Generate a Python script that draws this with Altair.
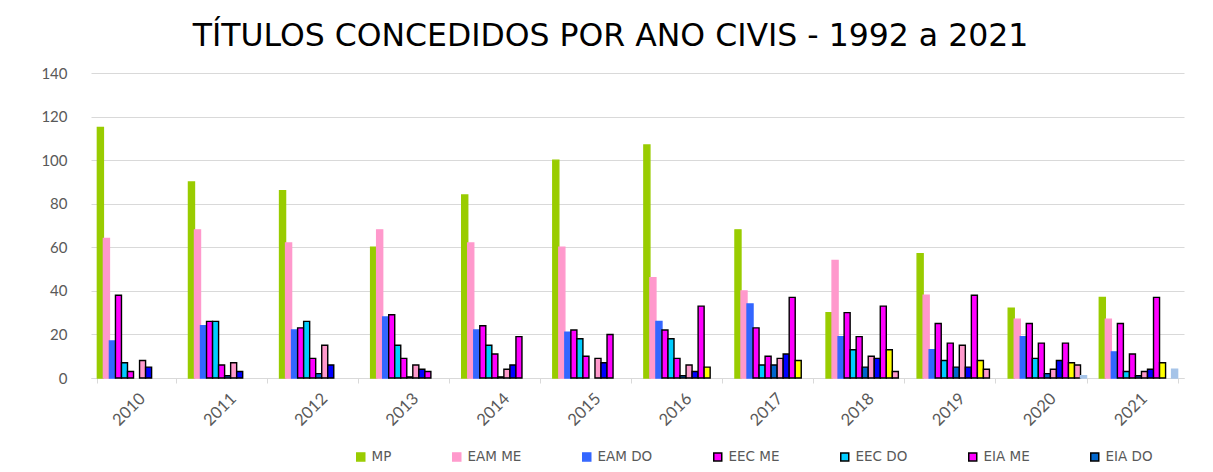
import altair as alt
import pandas as pd

years = ["2010", "2011", "2012", "2013", "2014", "2015", "2016", "2017", "2018", "2019", "2020", "2021"]

series_names = ["MP", "EAM ME", "EAM DO", "EEC ME", "EEC DO", "EIA ME", "EIA DO",
                "Série 8", "Série 9", "Série 10", "Série 11", "Série 12", "Série 13"]
legend_names = ["MP", "EAM ME", "EAM DO", "EEC ME", "EEC DO", "EIA ME", "EIA DO"]

mp      = [115, 90, 86, 60, 84, 100, 107, 68, 30, 57, 32, 37]
eam_me  = [64, 68, 62, 68, 62, 60, 46, 40, 54, 38, 27, 27]
eam_do  = [17, 24, 22, 28, 22, 21, 26, 34, 19, 13, 19, 12]
eec_me  = [38, 26, 23, 29, 24, 22, 22, 23, 30, 25, 25, 25]
eec_do  = [7, 26, 26, 15, 15, 18, 18, 6, 13, 8, 9, 3]
eia_me  = [3, 6, 9, 9, 11, 10, 9, 10, 19, 16, 16, 11]
eia_do  = [0, 1, 2, 0.5, 0.5, 0, 1, 6, 5, 5, 2, 1]
serie8  = [8, 7, 15, 6, 4, 9, 6, 9, 10, 15, 4, 3]
serie9  = [5, 3, 6, 4, 6, 7, 3, 11, 9, 5, 8, 4]
serie10 = [0, 0, 0, 3, 19, 20, 33, 37, 33, 38, 16, 37]
serie11 = [0, 0, 0, 0, 0, 0, 5, 8, 13, 8, 7, 7]
serie12 = [0, 0, 0, 0, 0, 0, 0, 0, 3, 4, 6, 0]
serie13 = [0, 0, 0, 0, 0, 0, 0, 0, 0, 0, 1, 4]

all_values = [mp, eam_me, eam_do, eec_me, eec_do, eia_me, eia_do,
              serie8, serie9, serie10, serie11, serie12, serie13]

fills = ["#99CC00", "#FF99CC", "#3366FF", "#FF00FF", "#00CCFF", "#FF00FF", "#0066CC",
         "#FF99CC", "#0000FF", "#FF00FF", "#FFFF00", "#FF99CC", "#A6C4E8"]
strokes = ["#99CC00", "#FF99CC", "#3366FF", "#000000", "#000000", "#000000", "#000000",
           "#000000", "#000000", "#000000", "#000000", "#000000", "#A6C4E8"]

rows = []
for name, vals in zip(series_names, all_values):
    for yr, v in zip(years, vals):
        rows.append({"year": yr, "series": name, "value": v})
df = pd.DataFrame(rows)

leg = alt.Legend(
    title=None, values=legend_names, orient="none", legendX=263, legendY=377,
    direction="horizontal", columns=7, columnPadding=57,
    symbolType="square", symbolSize=64, symbolStrokeWidth=1.5,
    labelFont="DejaVu Sans", labelFontSize=13.5, labelColor="#595959", labelOffset=4,
)

chart = alt.Chart(df).transform_filter(
    alt.datum.value > 0
).mark_bar(strokeWidth=1.4).encode(
    x=alt.X("year:N", sort=years, title=None,
            scale=alt.Scale(paddingInner=0.14, paddingOuter=0.07),
            axis=alt.Axis(labelAngle=-45, tickBand="extent", domainColor="#D9D9D9",
                          tickColor="#D9D9D9", tickSize=5, labelFont="Lato",
                          labelFontSize=16.5, labelColor="#595959", labelPadding=7,
                          grid=False)),
    xOffset=alt.XOffset("series:N", sort=series_names,
                        scale=alt.Scale(domain=series_names, paddingInner=0, paddingOuter=0)),
    y=alt.Y("value:Q", title=None,
            scale=alt.Scale(domain=[0, 140], nice=False),
            axis=alt.Axis(values=[0, 20, 40, 60, 80, 100, 120, 140], domain=False, ticks=False,
                          gridColor="#D9D9D9", labelFont="Lato", labelFontSize=15,
                          labelColor="#595959", labelPadding=24)),
    fill=alt.Fill("series:N", scale=alt.Scale(domain=series_names, range=fills), legend=leg),
    stroke=alt.Stroke("series:N", scale=alt.Scale(domain=series_names, range=strokes), legend=leg),
).properties(
    width=1093, height=305,
    title=alt.TitleParams("TÍTULOS CONCEDIDOS POR ANO CIVIS - 1992 a 2021", font="DejaVu Sans",
                          fontSize=31.5, fontWeight="normal", color="#000000",
                          anchor="middle", dx=-27, offset=14),
    autosize=alt.AutoSizeParams(type="none"),
    padding={"left": 83, "top": 65, "right": 20, "bottom": 85},
).configure_view(stroke=None)

chart.save("out.html", embed_options={"renderer": "svg", "actions": False})
